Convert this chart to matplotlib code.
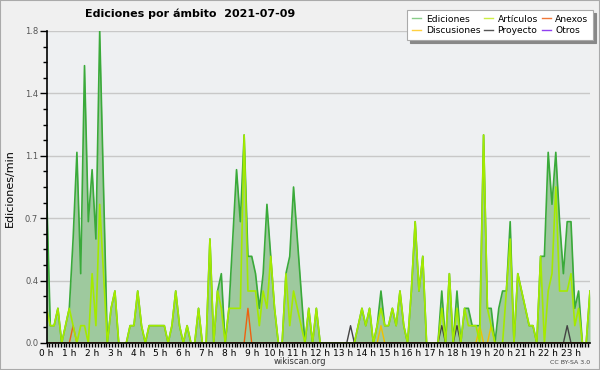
import numpy as np
import matplotlib
matplotlib.use('Agg')
import matplotlib.pyplot as plt
from matplotlib.ticker import FixedLocator, MultipleLocator

# 10-minute buckets over the day, values in edits per minute
ediciones = [0.9, 0.1, 0.1, 0.2, 0.0, 0.1, 0.2, 0.6, 1.1, 0.4, 1.6, 0.7, 1.0, 0.6, 1.8, 0.9,
             0.0, 0.2, 0.3, 0.0, 0.0, 0.0, 0.1, 0.1, 0.3, 0.1, 0.0, 0.1, 0.1, 0.1, 0.1, 0.1,
             0.0, 0.1, 0.3, 0.1, 0.0, 0.1, 0.0, 0.0, 0.2, 0.0, 0.0, 0.6, 0.0, 0.3, 0.4, 0.0,
             0.2, 0.6, 1.0, 0.7, 1.2, 0.5, 0.5, 0.4, 0.2, 0.4, 0.8, 0.5, 0.2, 0.0, 0.0, 0.4,
             0.5, 0.9, 0.6, 0.3, 0.0, 0.2, 0.0, 0.2, 0.0, 0.0, 0.0, 0.0, 0.0, 0.0, 0.0, 0.0,
             0.0, 0.0, 0.1, 0.2, 0.1, 0.2, 0.0, 0.1, 0.3, 0.1, 0.1, 0.2, 0.1, 0.3, 0.1, 0.0,
             0.3, 0.7, 0.3, 0.5, 0.0, 0.0, 0.0, 0.0, 0.3, 0.0, 0.4, 0.0, 0.3, 0.0, 0.2, 0.2,
             0.1, 0.1, 0.1, 1.2, 0.2, 0.2, 0.0, 0.2, 0.3, 0.3, 0.7, 0.0, 0.4, 0.3, 0.2, 0.1,
             0.1, 0.0, 0.5, 0.5, 1.1, 0.8, 1.1, 0.7, 0.4, 0.7, 0.7, 0.2, 0.3, 0.0, 0.0, 0.3]
articulos = [0.2, 0.1, 0.1, 0.2, 0.0, 0.1, 0.2, 0.1, 0.0, 0.1, 0.1, 0.0, 0.4, 0.1, 0.8, 0.4,
             0.0, 0.2, 0.3, 0.0, 0.0, 0.0, 0.1, 0.1, 0.3, 0.1, 0.0, 0.1, 0.1, 0.1, 0.1, 0.1,
             0.0, 0.1, 0.3, 0.1, 0.0, 0.1, 0.0, 0.0, 0.2, 0.0, 0.0, 0.6, 0.0, 0.3, 0.2, 0.0,
             0.2, 0.2, 0.2, 0.2, 1.2, 0.3, 0.3, 0.3, 0.1, 0.3, 0.2, 0.5, 0.2, 0.0, 0.0, 0.4,
             0.1, 0.3, 0.2, 0.1, 0.0, 0.2, 0.0, 0.2, 0.0, 0.0, 0.0, 0.0, 0.0, 0.0, 0.0, 0.0,
             0.0, 0.0, 0.1, 0.2, 0.1, 0.2, 0.0, 0.1, 0.2, 0.1, 0.1, 0.2, 0.1, 0.3, 0.1, 0.0,
             0.3, 0.7, 0.3, 0.5, 0.0, 0.0, 0.0, 0.0, 0.2, 0.0, 0.4, 0.0, 0.2, 0.0, 0.2, 0.1,
             0.1, 0.1, 0.0, 1.2, 0.2, 0.1, 0.0, 0.0, 0.0, 0.3, 0.6, 0.0, 0.4, 0.3, 0.2, 0.1,
             0.1, 0.0, 0.5, 0.0, 0.3, 0.4, 0.9, 0.3, 0.3, 0.3, 0.4, 0.1, 0.2, 0.0, 0.0, 0.3]
# sparse series: {bucket index: value}
anexos = {7: 0.1, 53: 0.2}
discusiones = {88: 0.1, 114: 0.1, 117: 0.1}
proyecto = {80: 0.1, 104: 0.1, 108: 0.1, 137: 0.1}
otros = {}

hour_labels = ['%d h' % h for h in range(24)]
y_ticks = [0.0, 0.36, 0.72, 1.08, 1.44, 1.8]
y_labels = ['0.0', '0.4', '0.7', '1.1', '1.4', '1.8']

n = len(ediciones)
x = np.arange(n)


def dense(d):
    s = np.zeros(n)
    for k, v in d.items():
        s[k] = v
    return s


fig = plt.figure(figsize=(6, 3.7), dpi=100, facecolor='#f0f0f0')
fig.patches.append(plt.Rectangle((0, 0), 1, 1, transform=fig.transFigure,
                                 fill=False, edgecolor='#aaaaaa', linewidth=1.5))
ax = fig.add_axes([46.5 / 600, 1 - 343 / 370, (590 - 46.5) / 600, (343 - 31) / 370])
ax.set_facecolor('#eef0f2')

ax.fill_between(x, ediciones, 0, color='#9ec99e', linewidth=0, zorder=1)
l1, = ax.plot(x, ediciones, color='#3aaa3a', lw=1.2, zorder=2)
l5, = ax.plot(x, dense(proyecto), color='#444444', lw=1.0, zorder=3)
l4, = ax.plot(x, dense(discusiones), color='#f0c000', lw=1.0, zorder=3)
l3, = ax.plot(x, dense(anexos), color='#ee6010', lw=1.0, zorder=3)
l6, = ax.plot(x, dense(otros), color='#8a3ae0', lw=1.0, zorder=3)
l2, = ax.plot(x, articulos, color='#a4ea00', lw=1.2, zorder=4)

ax.set_xlim(0, n - 1)
ax.set_ylim(0, 1.8)

ax.yaxis.set_major_locator(FixedLocator(y_ticks))
ax.set_yticklabels(y_labels)
ax.yaxis.set_minor_locator(MultipleLocator(0.09))
ax.set_xticks(np.arange(24) * 6)
ax.set_xticklabels(hour_labels)
ax.xaxis.set_minor_locator(MultipleLocator(0.75))

ax.tick_params(axis='y', which='major', length=5, width=1, labelsize=6, labelcolor='#555555', pad=1)
ax.tick_params(axis='y', which='minor', length=3, width=1)
ax.tick_params(axis='x', which='both', length=3, width=1, labelsize=6.5, pad=1)
ax.grid(axis='y', color='#c8c8c8', lw=1)
ax.set_axisbelow(True)
for s in ['top', 'right']:
    ax.spines[s].set_visible(False)
for s in ['left', 'bottom']:
    ax.spines[s].set_linewidth(1.2)
    ax.spines[s].set_zorder(6)

fig.text(10 / 600, 1 - 188 / 370, 'Ediciones/min', rotation=90, va='center', ha='center', fontsize=8)
fig.text(85 / 600, 1 - 14 / 370, 'Ediciones por ámbito  2021-07-09', fontsize=8, fontweight='bold',
         va='center', ha='left')
fig.text(300 / 600, 1 - 361 / 370, 'wikiscan.org', fontsize=6, color='#333333', ha='center', va='center')
fig.text(590 / 600, 1 - 362 / 370, 'CC BY-SA 3.0', fontsize=4.5, color='#444444', ha='right', va='center')

names = ['Ediciones', 'Discusiones', 'Artículos', 'Proyecto', 'Anexos', 'Otros']
leg_colors = ['#88cc88', '#ffd040', '#ccee44', '#555555', '#f07838', '#9040f0']
proxies = [plt.Line2D([], [], color=c, lw=1) for c in leg_colors]
leg = fig.legend(proxies, names, ncol=3, loc='upper right', bbox_to_anchor=(593 / 600, 1 - 10 / 370),
                 fontsize=6.6, frameon=True, fancybox=False, handlelength=1.0, handletextpad=0.5,
                 columnspacing=0.4, labelspacing=0.3, borderpad=0.5, borderaxespad=0,
                 shadow={'color': '#888888', 'alpha': 1})
leg.get_frame().set_edgecolor('#aaaaaa')
leg.get_frame().set_linewidth(0.8)

fig.savefig('out.png', dpi=100, facecolor=fig.get_facecolor())
